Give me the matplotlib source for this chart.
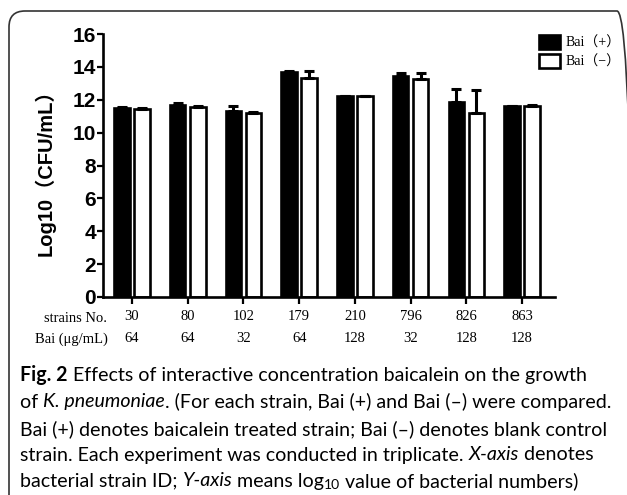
import numpy as np
import matplotlib
matplotlib.use('Agg')
import matplotlib.pyplot as plt
from matplotlib.patches import FancyBboxPatch, Patch

# data
strains = ['30', '80', '102', '179', '210', '796', '826', '863']
bai_conc = ['64', '64', '32', '64', '128', '32', '128', '128']
bai_pos = [11.5, 11.7, 11.3, 13.7, 12.2, 13.45, 11.85, 11.6]
bai_pos_err = [0.05, 0.08, 0.3, 0.05, 0.05, 0.2, 0.8, 0.05]
bai_neg = [11.45, 11.55, 11.2, 13.3, 12.2, 13.25, 11.2, 11.65]
bai_neg_err = [0.05, 0.05, 0.08, 0.45, 0.05, 0.35, 1.4, 0.05]
yticks = [0, 2, 4, 6, 8, 10, 12, 14, 16]

fig = plt.figure(figsize=(6.27, 4.95), dpi=100)
W, H = 627, 495

# rounded frame around the whole figure
frame = FancyBboxPatch((0.09, -0.3), 6.24, 5.14,
                       boxstyle='round,pad=0,rounding_size=0.16',
                       transform=fig.dpi_scale_trans, fill=False,
                       edgecolor='#333333', linewidth=1.2)
fig.patches.append(frame)

ax = fig.add_axes([103 / W, 1 - 297 / H, (555 - 103) / W, (297 - 34) / H])
x = np.arange(len(strains))
lw = 1.9
w = 0.28
ax.bar(x - 0.18, bai_pos, w, color='black', edgecolor='black', linewidth=lw, zorder=2)
ax.bar(x + 0.18, bai_neg, w, color='white', edgecolor='black', linewidth=lw, zorder=2)
ax.errorbar(x - 0.18, bai_pos, yerr=[np.zeros(8), bai_pos_err], fmt='none',
            ecolor='black', elinewidth=2.2, capsize=3.5, capthick=2.2, zorder=3)
ax.errorbar(x + 0.18, bai_neg, yerr=[np.zeros(8), bai_neg_err], fmt='none',
            ecolor='black', elinewidth=2.2, capsize=3.5, capthick=2.2, zorder=3)

ax.set_xlim(-0.52, 7.59)
ax.set_ylim(0, 16)
ax.spines['top'].set_visible(False)
ax.spines['right'].set_visible(False)
ax.spines['left'].set_linewidth(1.9)
ax.spines['bottom'].set_linewidth(1.9)
ax.set_yticks(yticks)
ax.set_yticklabels([str(v) for v in yticks], fontsize=15, fontweight='bold',
                   family='Liberation Sans')
ax.tick_params(axis='y', direction='out', length=4, width=1.6, pad=1)
ax.set_xticks(x)
ax.set_xticklabels(strains, family='Liberation Serif', fontsize=10.5)
ax.tick_params(axis='x', direction='out', length=5, width=1.6, pad=4)
ax.set_ylabel('Log10（CFU/mL）', fontsize=14.5, fontweight='bold',
              family=['Liberation Sans', 'Noto Sans CJK SC'])
ax.yaxis.set_label_coords(-0.105, 0.49)

# second row of x labels
for i, c in enumerate(bai_conc):
    ax.annotate(c, xy=(x[i], 0), xycoords='data', xytext=(0, -41),
                textcoords='offset pixels', ha='center', va='center',
                family='Liberation Serif', fontsize=10.5)
fig.text(107 / W, 1 - 318 / H, 'strains No.', ha='right', va='center',
         family='Liberation Serif', fontsize=10.5)
fig.text(108 / W, 1 - 339 / H, 'Bai (μg/mL)', ha='right', va='center',
         family='Liberation Serif', fontsize=10.5)

# legend
handles = [Patch(facecolor='black', edgecolor='black', linewidth=1.9),
           Patch(facecolor='white', edgecolor='black', linewidth=1.9)]
ax.legend(handles, ['Bai（+）', 'Bai（−）'], loc='upper left',
          bbox_to_anchor=(539 / W, 1 - 35 / H), bbox_transform=fig.transFigure,
          frameon=False, borderpad=0, borderaxespad=0, handlelength=1.5,
          handleheight=1.2, handletextpad=0.4, labelspacing=0.3,
          prop={'family': ['Liberation Serif', 'Noto Sans CJK SC'], 'size': 10})

# caption, drawn run by run
cap_font = 'Lato'
cap_size = 14.1
renderer = fig.canvas.get_renderer()


def draw_runs(ypix, runs):
    xx = 20 / W
    for s, kw in runs:
        dy = kw.pop('dy', 0)
        t = fig.text(xx, 1 - (ypix + dy) / H, s, va='center', ha='left',
                     family=cap_font, fontsize=kw.pop('size', cap_size), **kw)
        bb = t.get_window_extent(renderer=renderer)
        xx += bb.width / W


draw_runs(375, [('Fig. 2', {'fontweight': 'bold'}),
                (' Effects of interactive concentration baicalein on the growth', {})])
draw_runs(402, [('of ', {}), ('K. pneumoniae', {'style': 'italic'}),
                ('. (For each strain, Bai (+) and Bai (\u2013) were compared.', {})])
draw_runs(429, [('Bai (+) denotes baicalein treated strain; Bai (\u2013) denotes blank control', {})])
draw_runs(455, [('strain. Each experiment was conducted in triplicate. ', {}),
                ('X-axis', {'style': 'italic'}), (' denotes', {})])
draw_runs(481, [('bacterial strain ID; ', {}), ('Y-axis', {'style': 'italic'}),
                (' means log', {}), ('10', {'size': 10, 'dy': 4}),
                (' value of bacterial numbers)', {})])

fig.savefig('out.png', dpi=100)
